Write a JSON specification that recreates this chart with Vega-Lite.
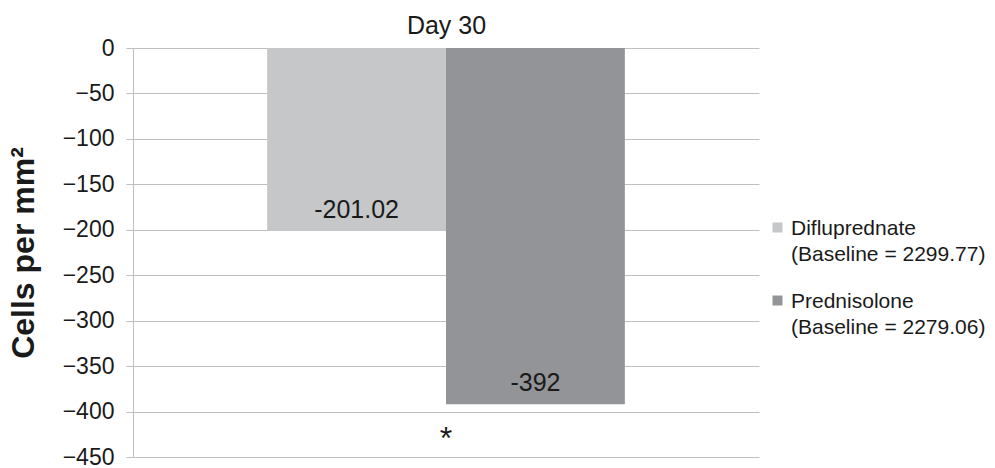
{
  "$schema": "https://vega.github.io/schema/vega-lite/v6.json",
  "width": 626,
  "height": 409,
  "autosize": "none",
  "padding": {"left": 133, "top": 48, "right": 236, "bottom": 11},
  "background": "white",
  "config": {
    "font": "Liberation Sans",
    "view": {"stroke": null}
  },
  "datasets": {
    "bars": [
      {"treatment": "Difluprednate\n(Baseline = 2299.77)", "value": -201.02, "label": "-201.02"},
      {"treatment": "Prednisolone\n(Baseline = 2279.06)", "value": -392, "label": "-392"}
    ],
    "marks": [
      {"treatment": "Prednisolone\n(Baseline = 2279.06)", "value": -430, "label": "*"}
    ]
  },
  "layer": [
    {
      "data": {"name": "bars"},
      "mark": {"type": "bar"},
      "encoding": {
        "x": {
          "field": "treatment",
          "type": "nominal",
          "sort": null,
          "scale": {"paddingInner": 0, "paddingOuter": 0.75},
          "axis": {
            "orient": "top",
            "labels": false,
            "ticks": false,
            "domain": false,
            "title": "Day 30",
            "titleFontSize": 25,
            "titleFontWeight": "normal",
            "titleColor": "#1a1a1a",
            "titlePadding": 10
          }
        },
        "y": {
          "field": "value",
          "type": "quantitative",
          "scale": {"domain": [-450, 0], "nice": false, "zero": false},
          "axis": {
            "values": [0, -50, -100, -150, -200, -250, -300, -350, -400, -450],
            "title": "Cells per mm²",
            "titleFontSize": 32,
            "titleFontWeight": "bold",
            "titleColor": "#1a1a1a",
            "titlePadding": 22,
            "labelFontSize": 23,
            "labelColor": "#1a1a1a",
            "labelPadding": 12,
            "tickSize": 7,
            "tickColor": "#bfbfbf",
            "domainColor": "#bfbfbf",
            "gridColor": "#bfbfbf",
            "grid": true
          }
        },
        "color": {
          "field": "treatment",
          "type": "nominal",
          "sort": null,
          "scale": {"range": ["#c6c7c9", "#929497"]},
          "legend": {
            "title": null,
            "orient": "none",
            "legendX": 634,
            "legendY": 169,
            "padding": 0,
            "symbolType": "square",
            "symbolSize": 100,
            "symbolStrokeWidth": 0,
            "labelFontSize": 21,
            "labelColor": "#1a1a1a",
            "labelLimit": 300,
            "labelOffset": 3,
            "labelBaseline": "top",
            "rowPadding": 25,
            "labelExpr": "split(datum.label, '\\n')",
            "labelLineHeight": 26,
            "encode": {"labels": {"update": {"dy": {"value": -10}, "lineHeight": {"value": 26}}}}
          }
        }
      }
    },
    {
      "data": {"name": "bars"},
      "mark": {"type": "text", "baseline": "middle", "dy": -21, "fontSize": 25, "color": "#1a1a1a"},
      "encoding": {
        "x": {"field": "treatment", "type": "nominal", "sort": null},
        "y": {"field": "value", "type": "quantitative"},
        "text": {"field": "label"}
      }
    },
    {
      "data": {"name": "marks"},
      "mark": {"type": "text", "baseline": "middle", "fontSize": 32, "color": "#1a1a1a"},
      "encoding": {
        "x": {"field": "treatment", "type": "nominal", "sort": null, "bandPosition": 0},
        "y": {"field": "value", "type": "quantitative"},
        "text": {"field": "label"}
      }
    }
  ]
}
